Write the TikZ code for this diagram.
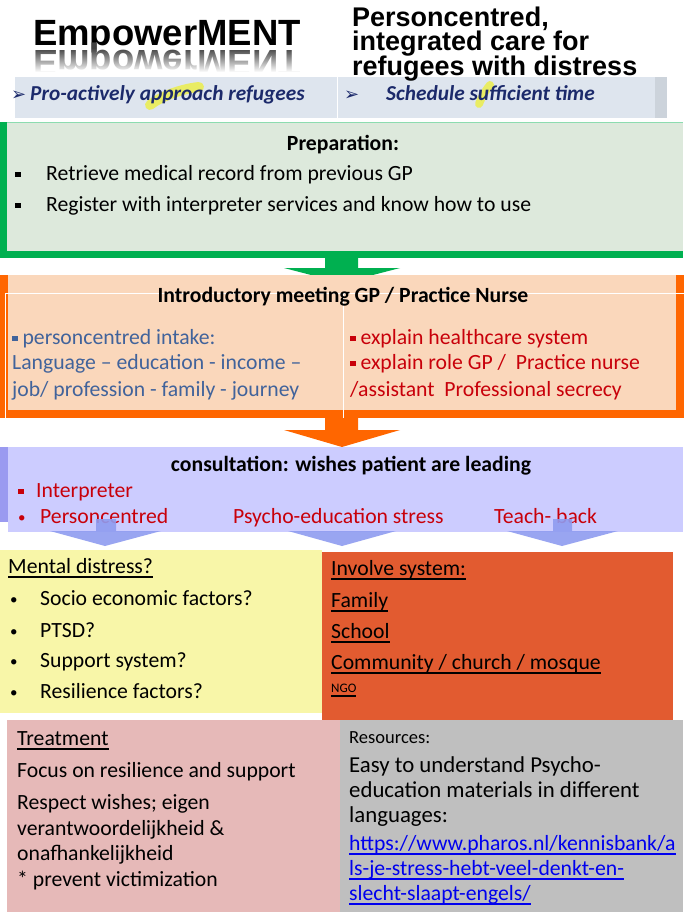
\documentclass[tikz,border=0pt]{standalone}
\usepackage{fontspec}
\setmainfont{Carlito}
\newfontfamily\arialf{Liberation Sans}
\newfontfamily\djv{DejaVu Sans}
\usetikzlibrary{fadings}
\definecolor{barc}{HTML}{DEE5EE}
\definecolor{gfill}{HTML}{DDE9DC}
\definecolor{gline}{HTML}{00B050}
\definecolor{peach}{HTML}{FAD7BB}
\definecolor{oline}{HTML}{FF6600}
\definecolor{lav}{HTML}{CCCCFF}
\definecolor{lavd}{HTML}{9A9AF0}
\definecolor{barrow}{HTML}{8F9CF0}
\definecolor{yel}{HTML}{F8F6A8}
\definecolor{ored}{HTML}{E25B30}
\definecolor{pinkc}{HTML}{E6B9B8}
\definecolor{grayc}{HTML}{BFBFBF}
\definecolor{navy}{HTML}{1C2A6B}
\definecolor{iblue}{HTML}{41639B}
\definecolor{dred}{HTML}{C8000A}
\definecolor{ulink}{HTML}{0000EE}
\definecolor{hl}{HTML}{EEF02A}
\newcommand{\mysq}{\rule[3pt]{5.5pt}{5.5pt}}
\newcommand{\myul}[1]{\setbox0\hbox{#1}\rlap{\rule[-5pt]{\wd0}{1.6pt}}\box0}
\newcommand{\mybul}{{\fontsize{15}{15}\selectfont\raisebox{1pt}{•}}}
\begin{document}
\begin{tikzpicture}[x=1pt,y=-1pt,
  tx/.style={anchor=base west,inner sep=0pt,font=\fontsize{21.7}{26}\selectfont},
  hd/.style={anchor=base,inner sep=0pt,font=\fontsize{21.7}{26}\selectfont\bfseries},
  ttl/.style={anchor=base west,inner sep=0pt,font=\arialf\bfseries\fontsize{27}{30}\selectfont},
  bartx/.style={anchor=base west,inner sep=0pt,text=navy,font=\fontsize{21.3}{26}\selectfont\bfseries\itshape},
  bararr/.style={anchor=base west,inner sep=0pt,text=navy,font=\djv\bfseries\fontsize{18}{20}\selectfont},
  hlstroke/.style={draw=hl,opacity=0.7,line cap=round,line width=10pt}]
\useasboundingbox (0,0) rectangle (683,916);
\fill[white] (0,0) rectangle (683,916);

% ---------- header ----------
\fill[barc] (15,77) rectangle (667,118);
\fill[barc!92!black] (655,77) rectangle (667,118);
\draw[white,line width=1pt] (337,77) -- (337,118);
\draw[hlstroke] (150,105) .. controls (160,97) and (180,89) .. (199,87);
\draw[hlstroke,line width=8pt] (479,104) .. controls (482,96) and (486,90) .. (490,85);

\node[anchor=base west,inner sep=0pt,font=\arialf\bfseries\fontsize{36.5}{40}\selectfont] (emp) at (33,45) {EmpowerMENT};
\node[anchor=base west,inner sep=0pt,text=black!75,font=\arialf\bfseries\fontsize{36.5}{40}\selectfont] (emprefl) at (33,50) {\scalebox{1}[-1]{EmpowerMENT}};
\fill[white,path fading=north] (25,48) rectangle (310,72);
\fill[white] (25,72) rectangle (310,76.5);

\node[ttl] (t1) at (352,26) {Personcentred,};
\node[ttl] (t2) at (352,50.5) {integrated care for};
\node[ttl] (t3) at (352,75) {refugees with distress};

\node[bararr] (a1) at (11,100) {➢};
\node[bartx] (b1) at (30,100) {Pro-actively approach refugees};
\node[bararr] (a2) at (344,100) {➢};
\node[bartx] (b2) at (386,100) {Schedule sufficient time};

% ---------- preparation ----------
\fill[gfill] (0,122) rectangle (683,258);
\draw[gline!45,line width=1pt] (0,122.5) -- (683,122.5);
\draw[gline,line width=7pt] (3.5,122) -- (3.5,254) -- (683,254);
\node[hd] (prep) at (343,150) {Preparation:};
\node[tx] (p1b) at (15,180) {\mysq};
\node[tx] (p1) at (46,180) {Retrieve medical record from previous GP};
\node[tx] (p2b) at (15,211) {\mysq};
\node[tx] (p2) at (46,211) {Register with interpreter services and know how to use};
\fill[gline] (325,256) -- (358,256) -- (358,268) -- (400,268) -- (342,283) -- (284,268) -- (325,268) -- cycle;

% ---------- introductory ----------
\fill[peach] (0,275) rectangle (683,418);
\draw[oline,line width=8pt] (4,275) -- (4,414) -- (679.5,414) -- (679.5,275);
\draw[white,line width=1pt] (5,293) rectangle (690,422);
\draw[white,line width=1pt] (343,293) -- (343,422);
\node[hd] (intro) at (343,302) {Introductory meeting GP / Practice Nurse};
\node[tx,text=iblue] (i1) at (12,344) {\mysq\ personcentred intake:};
\node[tx,text=iblue] (i2) at (12,369) {Language – education - income –};
\node[tx,text=iblue] (i3) at (12,396) {job/ profession - family - journey};
\node[tx,text=dred] (r1) at (350,344) {\mysq\ explain healthcare system};
\node[tx,text=dred] (r2) at (350,369) {\mysq\ explain role GP /\ \ Practice nurse};
\node[tx,text=dred] (r3) at (350,396) {/assistant\ \ Professional secrecy};
\fill[oline] (325,418) -- (358,418) -- (358,430) -- (400,430) -- (342,447) -- (284,430) -- (325,430) -- cycle;

% ---------- consultation ----------
\fill[lavd] (0,447) rectangle (20,522);
\fill[lav] (8,447) rectangle (683,532);
\node[hd] (cons) at (351,471) {consultation: wishes patient are leading};
\node[tx,text=dred] (c1b) at (18,497) {\mysq};
\node[tx,text=dred] (c1) at (36,497) {Interpreter};
\node[tx,text=dred] (c2b) at (18,523) {\mybul};
\node[tx,text=dred] (c2) at (40,523) {Personcentred};
\node[tx,text=dred] (c3) at (233,523) {Psycho-education stress};
\node[tx,text=dred] (c4) at (494,523) {Teach- back};
\fill[barrow,opacity=0.9] (96,519) -- (116,519) -- (116,531) -- (161,531) -- (105,546) -- (50,531) -- (96,531) -- cycle;
\fill[barrow,opacity=0.9] (396,531) -- (342,546) -- (288,531) -- cycle;
\fill[barrow,opacity=0.9] (553,519) -- (572,519) -- (572,531) -- (618,531) -- (562,546) -- (507,531) -- (553,531) -- cycle;

% ---------- mental distress / involve system ----------
\fill[yel] (0,550) rectangle (322,713);
\fill[ored] (322,552) rectangle (673,720);
\node[tx] (m0) at (8,573) {\myul{Mental distress?}};
\node[tx] (m1b) at (10,605) {\mybul};
\node[tx] (m1) at (40,605) {Socio economic factors?};
\node[tx] (m2b) at (10,637) {\mybul};
\node[tx] (m2) at (40,637) {PTSD?};
\node[tx] (m3b) at (10,667) {\mybul};
\node[tx] (m3) at (40,667) {Support system?};
\node[tx] (m4b) at (10,698) {\mybul};
\node[tx] (m4) at (40,698) {Resilience factors?};
\node[tx] (s0) at (331,575) {\myul{Involve system:}};
\node[tx] (s1) at (331,607) {\myul{Family}};
\node[tx] (s2) at (331,638) {\myul{School}};
\node[tx] (s3) at (331,669) {\myul{Community / church / mosque}};
\node[tx,font=\fontsize{13}{15}\selectfont] (s4) at (331,692) {\myul{NGO}};

% ---------- treatment / resources ----------
\fill[pinkc] (7,720) rectangle (340,912);
\fill[grayc] (340,720) rectangle (683,912);
\node[tx] (tr0) at (17,745) {\myul{Treatment}};
\node[tx] (tr1) at (17,777) {Focus on resilience and support};
\node[tx] (tr2) at (17,809) {Respect wishes; eigen};
\node[tx] (tr3) at (17,835) {verantwoordelijkheid \&};
\node[tx] (tr4) at (17,860) {onafhankelijkheid};
\node[tx] (tr5) at (17,886) {* prevent victimization};
\node[tx,font=\fontsize{18.5}{22}\selectfont] (rs0) at (349,743) {Resources:};
\node[tx,font=\fontsize{22.8}{26}\selectfont] (rs1) at (349,772) {Easy to understand Psycho-};
\node[tx,font=\fontsize{22.8}{26}\selectfont] (rs2) at (349,797) {education materials in different};
\node[tx,font=\fontsize{22.8}{26}\selectfont] (rs3) at (349,822) {languages:};
\node[tx,text=ulink,font=\fontsize{21.7}{26}\selectfont] (u1) at (349,850) {\myul{https://www.pharos.nl/kennisbank/a}};
\node[tx,text=ulink,font=\fontsize{21.7}{26}\selectfont] (u2) at (349,875) {\myul{ls-je-stress-hebt-veel-denkt-en-}};
\node[tx,text=ulink,font=\fontsize{21.7}{26}\selectfont] (u3) at (349,900) {\myul{slecht-slaapt-engels/}};
\end{tikzpicture}
\end{document}
